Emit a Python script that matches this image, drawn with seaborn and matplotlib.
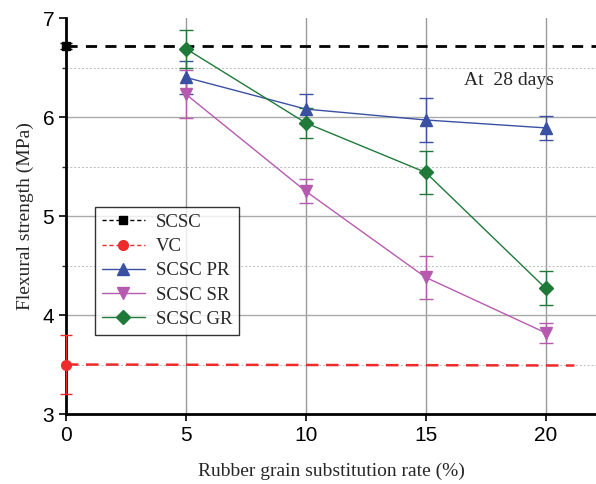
import numpy as np
import pandas as pd
import matplotlib
matplotlib.use("Agg")
import matplotlib.pyplot as plt
import seaborn as sns
from matplotlib.ticker import MultipleLocator
from matplotlib.lines import Line2D

# ---- data ----
rates = [5, 10, 15, 20]
pr_mean = [6.40, 6.08, 5.97, 5.89]
pr_err = [0.17, 0.15, 0.22, 0.12]
sr_mean = [6.23, 5.25, 4.38, 3.82]
sr_err = [0.24, 0.12, 0.22, 0.10]
gr_mean = [6.69, 5.94, 5.44, 4.27]
gr_err = [0.19, 0.15, 0.22, 0.17]
scsc_val = 6.72
scsc_err = 0.03
vc_val = 3.50
vc_err = 0.30
ref_x = [0, 22.2]
vc_x = [0, 21.2]

sns.set_theme(style="ticks")
plt.rcParams['font.family'] = ['Liberation Sans', 'DejaVu Sans']
serif = ['Liberation Serif', 'DejaVu Serif']

fig = plt.figure(figsize=(5.96, 4.84), dpi=100)
ax = fig.add_axes([0.1107, 0.1446, 0.8893, 0.8182])

c_pr = '#3a51a3'
c_sr = '#b65aaf'
c_gr = '#1f7a3a'
c_red = '#ee2a2a'

# grid
for v in [5, 10, 15, 20]:
    ax.axvline(v, color='#999999', lw=1.0, zorder=0)
for v in [4, 5, 6]:
    ax.axhline(v, color='#aaaaaa', lw=1.0, zorder=0)
for v in [3.5, 4.5, 5.5, 6.5]:
    ax.axhline(v, color='#bbbbbb', lw=0.7, ls=(0, (2, 2)), zorder=0)

# reference lines
ref_df = pd.DataFrame({'x': ref_x, 'y': [scsc_val, scsc_val]})
vc_df = pd.DataFrame({'x': vc_x, 'y': [vc_val, vc_val - 0.01]})
sns.lineplot(data=ref_df, x='x', y='y', ax=ax, color='black', lw=2.0,
             ls=(0, (4, 3)), zorder=3)
sns.lineplot(data=vc_df, x='x', y='y', ax=ax, color=c_red, lw=1.8,
             ls=(0, (5, 3)), zorder=3)
ax.errorbar([0], [scsc_val], yerr=[scsc_err], fmt='s', color='black', ms=6,
            capsize=4, elinewidth=1, clip_on=False, zorder=5)
ax.errorbar([0], [vc_val], yerr=[vc_err], fmt='o', color=c_red, ms=7,
            capsize=4, elinewidth=1, clip_on=False, zorder=5)

series = [
    (pr_mean, pr_err, c_pr, '^'),
    (sr_mean, sr_err, c_sr, 'v'),
    (gr_mean, gr_err, c_gr, 'D'),
]
for mean, err, col, mk in series:
    df = pd.DataFrame({'x': rates, 'y': mean})
    sns.lineplot(data=df, x='x', y='y', ax=ax, color=col, lw=1.0, zorder=4)
    ax.errorbar(rates, mean, yerr=err, fmt=mk, color=col, ms=8 if mk != 'D' else 7,
                capsize=5, elinewidth=1, capthick=1, zorder=5)

ax.set_xlim(0, 22.1)
ax.set_ylim(3, 7)
ax.xaxis.set_major_locator(MultipleLocator(5))
ax.yaxis.set_major_locator(MultipleLocator(1))
ax.yaxis.set_minor_locator(MultipleLocator(0.5))
ax.tick_params(axis='both', which='major', direction='out', length=5, width=1.2,
               labelsize=15, colors='black')
ax.tick_params(axis='y', which='minor', direction='out', length=3, width=1)
for s in ['top', 'right']:
    ax.spines[s].set_visible(False)
for s in ['left', 'bottom']:
    ax.spines[s].set_linewidth(2.0)
    ax.spines[s].set_color('black')

ax.set_xlabel('Rubber grain substitution rate (%)', fontsize=14, family=serif, labelpad=13)
ax.set_ylabel('Flexural strength (MPa)', fontsize=14, family=serif, labelpad=6)

ax.text(16.6, 6.37, 'At  28 days', fontsize=14, family=serif, va='center', ha='left')

handles = [
    Line2D([], [], color='black', ls=(0, (3, 2)), lw=1, marker='s', ms=6),
    Line2D([], [], color=c_red, ls=(0, (3, 2)), lw=1, marker='o', ms=7),
    Line2D([], [], color=c_pr, lw=1, marker='^', ms=8),
    Line2D([], [], color=c_sr, lw=1, marker='v', ms=8),
    Line2D([], [], color=c_gr, lw=1, marker='D', ms=7),
]
labels = ['SCSC', 'VC', 'SCSC PR', 'SCSC SR', 'SCSC GR']
leg = ax.legend(handles, labels, loc='upper left', bbox_to_anchor=(0.055, 0.522),
                borderaxespad=0,
                prop={'family': serif, 'size': 13.5}, frameon=True, fancybox=False,
                edgecolor='black', handlelength=2.3, labelspacing=0.38,
                borderpad=0.35, handletextpad=0.6)
leg.get_frame().set_linewidth(1.0)
leg.set_zorder(10)

fig.savefig('out.png', dpi=100)
